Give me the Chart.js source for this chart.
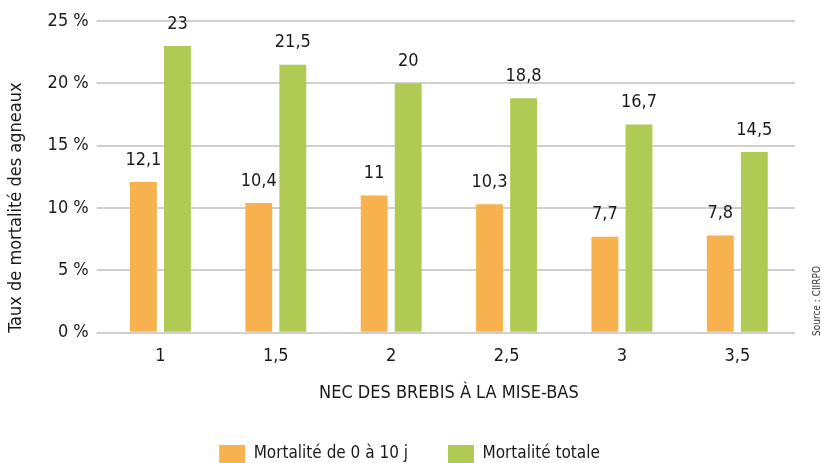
<!DOCTYPE html>
<html><head><meta charset="utf-8">
<script src="https://cdn.jsdelivr.net/npm/chart.js@4"></script>
<style>html,body{margin:0;padding:0;background:#fff;}#wrap{width:822px;height:463px;}</style>
</head><body><div id="wrap"><canvas id="c" width="822" height="463"></canvas></div>
<script>
const categories = ['1', '1,5', '2', '2,5', '3', '3,5'];
const mortalite10j = [12.1, 10.4, 11, 10.3, 7.7, 7.8];
const mortaliteTotale = [23, 21.5, 20, 18.8, 16.7, 14.5];
const seriesNames = ['Mortalité de 0 à 10 j', 'Mortalité totale'];
const yTicks = [0, 5, 10, 15, 20, 25];
const xTitle = 'NEC DES BREBIS À LA MISE-BAS';
const yTitle = 'Taux de mortalité des agneaux';
const sourceText = 'Source : CIIRPO';

const FONT = "'Liberation Sans Narrow', 'DejaVu Sans Condensed', 'Roboto Condensed', sans-serif";
const TXT = '#1a1a1a';

const labelPlugin = {
  id: 'valueLabels',
  afterDatasetsDraw(chart) {
    const ctx = chart.ctx;
    ctx.save();
    ctx.font = `18px ${FONT}`;
    ctx.fillStyle = TXT;
    ctx.textAlign = 'center';
    ctx.textBaseline = 'bottom';
    chart.data.datasets.forEach((ds, i) => {
      chart.getDatasetMeta(i).data.forEach((bar, j) => {
        ctx.fillText(String(ds.data[j]).replace('.', ','), bar.x, bar.y - 13);
      });
    });
    ctx.restore();
  }
};
const sourcePlugin = {
  id: 'source',
  afterLayout(chart) {
    if (chart.legend) { chart.legend.left += 9; chart.legend.right += 9; }
  },
  afterDraw(chart) {
    const ctx = chart.ctx;
    ctx.save();
    ctx.font = `10px ${FONT}`;
    ctx.fillStyle = '#333';
    ctx.translate(817, 301);
    ctx.rotate(-Math.PI / 2);
    ctx.textAlign = 'center';
    ctx.textBaseline = 'middle';
    ctx.fillText(sourceText, 0, 0);
    ctx.restore();
  }
};

new Chart(document.getElementById('c'), {
  type: 'bar',
  data: {
    labels: categories,
    datasets: [
      { label: seriesNames[0], data: mortalite10j, backgroundColor: '#F7B24F' },
      { label: seriesNames[1], data: mortaliteTotale, backgroundColor: '#B0CB53' }
    ]
  },
  options: {
    responsive: false,
    animation: false,
    devicePixelRatio: 1,
    layout: { padding: { left: 6, right: 27, top: 21, bottom: -10 } },
    datasets: { bar: { categoryPercentage: 0.59, barPercentage: 0.79 } },
    plugins: {
      legend: {
        position: 'bottom',
        labels: {
          boxWidth: 26, boxHeight: 18, padding: 40,
          color: TXT, font: { family: FONT, size: 17 }
        }
      },
      tooltip: { enabled: false }
    },
    scales: {
      x: {
        grid: { display: false },
        border: { display: false },
        ticks: { color: TXT, font: { family: FONT, size: 18 }, padding: 5 },
        title: { display: true, text: xTitle, color: TXT, font: { family: FONT, size: 18 }, padding: { top: 10, bottom: 1 } }
      },
      y: {
        min: 0, max: 25,
        afterBuildTicks(scale) { scale.ticks = yTicks.map(v => ({ value: v })); },
        grid: { color: '#cfcfcf', lineWidth: 2, tickLength: 6 },
        border: { display: false },
        ticks: { color: TXT, font: { family: FONT, size: 18 }, padding: 8, callback: v => v + ' %' },
        title: { display: true, align: 'start', text: yTitle, color: TXT, font: { family: FONT, size: 18 }, padding: { top: 0, bottom: 12 } }
      }
    }
  },
  plugins: [labelPlugin, sourcePlugin]
});
</script></body></html>
